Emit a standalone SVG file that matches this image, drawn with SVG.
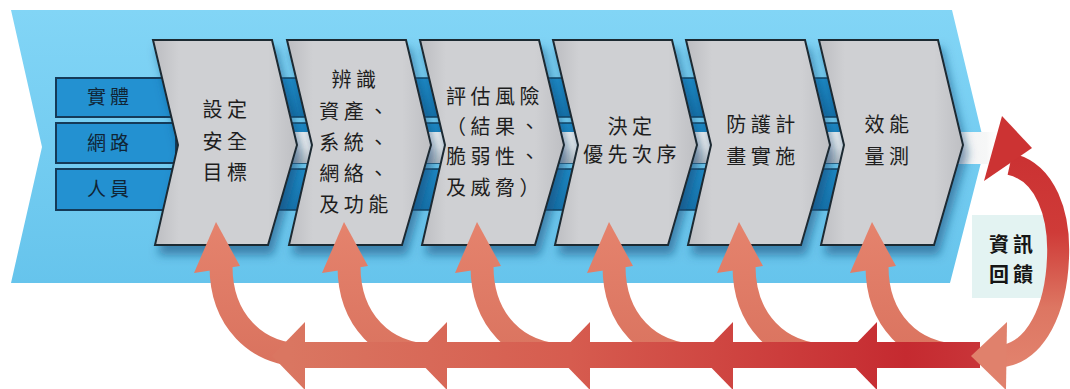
<svg xmlns="http://www.w3.org/2000/svg" width="1070" height="389" viewBox="0 0 1070 389">
<defs>
<style>
.chev{fill:url(#chevFill);stroke:#1d2a33;stroke-width:2;stroke-linejoin:miter;filter:url(#shadow)}
.t{font-family:"Noto Sans CJK TC","Noto Sans CJK SC",sans-serif;font-size:20px;fill:#1e1e1e;text-anchor:middle;letter-spacing:4.5px}
.lt{font-family:"Noto Sans CJK TC","Noto Sans CJK SC",sans-serif;font-size:19px;fill:#102536;text-anchor:middle;letter-spacing:4px}
.fb{font-family:"Noto Sans CJK TC","Noto Sans CJK SC",sans-serif;font-size:20px;font-weight:bold;fill:#151515;text-anchor:middle;letter-spacing:4px}
.band{fill:url(#bandBlue);stroke:#13405e;stroke-width:1.5}
.lbox{fill:#2391d1;stroke:#143a58;stroke-width:2}
.cshaft{fill:none;stroke:url(#salmon);stroke-width:23}
.chead{fill:url(#salmon)}
.hband{fill:url(#redH)}
</style>
<linearGradient id="bg" x1="0" y1="0" x2="0" y2="1">
<stop offset="0" stop-color="#82d5f6"/>
<stop offset="1" stop-color="#66c4ec"/>
</linearGradient>
<linearGradient id="bandBlue" x1="0" y1="0" x2="0" y2="1">
<stop offset="0" stop-color="#1f8cc8"/>
<stop offset="1" stop-color="#1672aa"/>
</linearGradient>
<linearGradient id="whiteBand" x1="0" y1="0" x2="0" y2="1">
<stop offset="0" stop-color="#f4f5f6"/>
<stop offset="0.5" stop-color="#e6e8ea"/>
<stop offset="1" stop-color="#b7bcc1"/>
</linearGradient>
<linearGradient id="whiteFade" x1="955" y1="0" x2="1000" y2="0" gradientUnits="userSpaceOnUse">
<stop offset="0" stop-color="#f2f3f4"/>
<stop offset="0.7" stop-color="#f6f7f7"/>
<stop offset="1" stop-color="#ffffff" stop-opacity="0"/>
</linearGradient>
<linearGradient id="chevFill" x1="0" y1="0" x2="1" y2="0">
<stop offset="0" stop-color="#bcbdc1"/>
<stop offset="0.18" stop-color="#cfd0d3"/>
<stop offset="0.8" stop-color="#cfd0d3"/>
<stop offset="1" stop-color="#bebfc3"/>
</linearGradient>
<linearGradient id="salmon" x1="0" y1="222" x2="0" y2="368" gradientUnits="userSpaceOnUse">
<stop offset="0" stop-color="#e5836d"/>
<stop offset="1" stop-color="#d9725e"/>
</linearGradient>
<linearGradient id="redH" x1="290" y1="0" x2="990" y2="0" gradientUnits="userSpaceOnUse">
<stop offset="0" stop-color="#da7661"/>
<stop offset="0.4" stop-color="#d65c4f"/>
<stop offset="0.7" stop-color="#cc3d3c"/>
<stop offset="0.88" stop-color="#c52a30"/>
<stop offset="1" stop-color="#c9363a"/>
</linearGradient>
<linearGradient id="loopGrad" x1="0" y1="120" x2="0" y2="370" gradientUnits="userSpaceOnUse">
<stop offset="0" stop-color="#c92d30"/>
<stop offset="0.45" stop-color="#cf3b38"/>
<stop offset="0.75" stop-color="#dd7662"/>
<stop offset="1" stop-color="#e2836e"/>
</linearGradient>
<filter id="shadow" x="-20%" y="-20%" width="150%" height="150%">
<feDropShadow dx="4" dy="9" stdDeviation="5" flood-color="#0c4a74" flood-opacity="0.55"/>
</filter>
</defs>

<!-- background -->
<g id="background">
<path d="M11,10 L952,10 L985,147 L950,283 L11,283 L42,147 Z" fill="url(#bg)"/>
<rect x="170" y="78" width="760" height="39" class="band"/>
<rect x="170" y="123" width="760" height="40" class="band"/>
<rect x="170" y="169" width="760" height="41" class="band"/>
<rect x="270" y="132" width="670" height="31" fill="url(#whiteBand)"/>
<rect x="940" y="132" width="60" height="32" fill="url(#whiteFade)"/>
</g>

<g id="input-physical">
<rect x="56" y="78" width="120" height="39" class="lbox"/>
<text x="110" y="104" class="lt">實體</text>
</g>
<g id="input-network">
<rect x="56" y="123" width="120" height="40" class="lbox"/>
<text x="110" y="150" class="lt">網路</text>
</g>
<g id="input-personnel">
<rect x="56" y="169" width="120" height="41" class="lbox"/>
<text x="110" y="196" class="lt">人員</text>
</g>

<g id="step1">
<path class="chev" d="M153,40 L272,40 L297,145 L268,245 L155,245 L178,145 Z"/>
<text x="227" y="117" class="t">設定</text>
<text x="227" y="149" class="t">安全</text>
<text x="227" y="180" class="t">目標</text>
</g>
<g id="step2">
<path class="chev" d="M287,40 L406,40 L431,145 L402,245 L289,245 L312,145 Z"/>
<text x="356" y="87" class="t">辨識</text>
<text x="356" y="119" class="t">資產、</text>
<text x="356" y="150" class="t">系統、</text>
<text x="356" y="181" class="t">網絡、</text>
<text x="356" y="212" class="t">及功能</text>
</g>
<g id="step3">
<path class="chev" d="M420,40 L539,40 L564,145 L535,245 L422,245 L445,145 Z"/>
<text x="495" y="104" class="t">評估風險</text>
<text x="495" y="134" class="t">（結果、</text>
<text x="495" y="164" class="t">脆弱性、</text>
<text x="495" y="195" class="t">及威脅）</text>
</g>
<g id="step4">
<path class="chev" d="M553,40 L672,40 L697,145 L668,245 L555,245 L578,145 Z"/>
<text x="632" y="134" class="t">決定</text>
<text x="632" y="162" class="t">優先次序</text>
</g>
<g id="step5">
<path class="chev" d="M686,40 L805,40 L830,145 L801,245 L688,245 L711,145 Z"/>
<text x="763" y="132" class="t">防護計</text>
<text x="763" y="164" class="t">畫實施</text>
</g>
<g id="step6">
<path class="chev" d="M819,40 L938,40 L963,145 L934,245 L821,245 L844,145 Z"/>
<text x="889" y="132" class="t">效能</text>
<text x="889" y="164" class="t">量測</text>
</g>

<g id="feedback-label">
<rect x="972" y="215" width="76" height="83" fill="#e3f3f2"/>
<text x="1013" y="252" class="fb">資訊</text>
<text x="1013" y="282" class="fb">回饋</text>
</g>

<g id="connectors">
<!-- curved up arrows to each step -->
<path class="cshaft" d="M221,266 C221,320 256,355 304,355"/>
<polygon class="chead" points="216,222 194,273 240,266"/>
<path class="cshaft" d="M349,266 C349,320 384,355 432,355"/>
<polygon class="chead" points="344,222 322,273 368,266"/>
<path class="cshaft" d="M482,266 C482,320 517,355 565,355"/>
<polygon class="chead" points="477,222 455,273 501,266"/>
<path class="cshaft" d="M614,266 C614,320 649,355 697,355"/>
<polygon class="chead" points="609,222 587,273 633,266"/>
<path class="cshaft" d="M744,266 C744,320 779,355 827,355"/>
<polygon class="chead" points="739,222 717,273 763,266"/>
<path class="cshaft" d="M877,266 C877,320 912,355 960,355"/>
<polygon class="chead" points="872,222 850,273 896,266"/>
<!-- horizontal return band -->
<rect x="300" y="342" width="680" height="26" class="hband"/>
<polygon class="hband" points="305,322 305,390 272,356"/>
<polygon class="hband" points="447,322 447,390 414,356"/>
<polygon class="hband" points="590,322 590,390 557,356"/>
<polygon class="hband" points="733,322 733,390 700,356"/>
<polygon class="hband" points="877,322 877,390 844,356"/>
<!-- feedback loop -->
<path d="M1010,164 C1046,172 1060,215 1058,258 C1056,310 1036,350 1004,356" fill="none" stroke="url(#loopGrad)" stroke-width="22"/>
<polygon points="1002,116 984,181 1032,148" fill="#cc3333"/>
<polygon points="1007,322 1006,390 971,356" fill="#e0816c"/>
</g>
</svg>
